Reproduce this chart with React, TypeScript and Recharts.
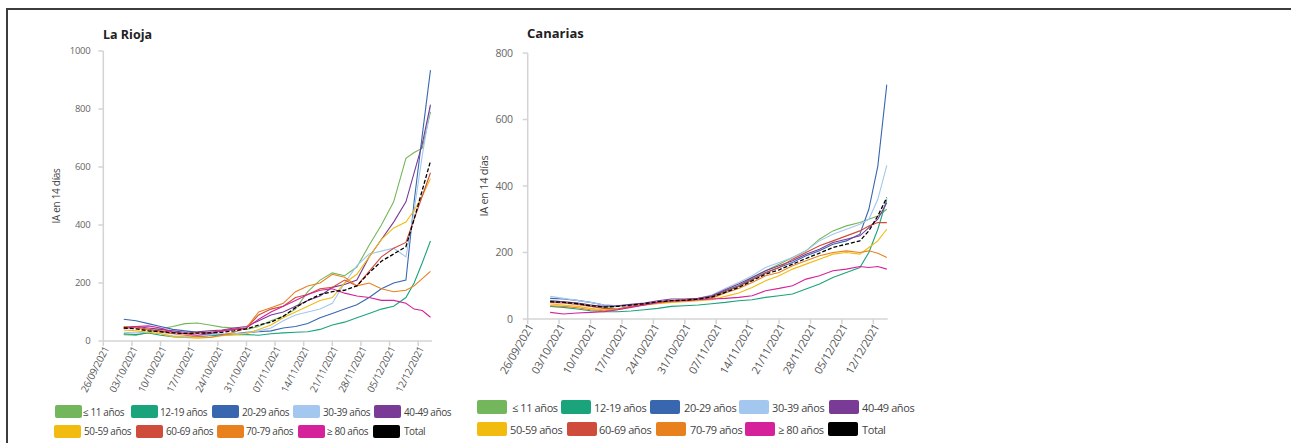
import React from "react";
import { LineChart, Line, XAxis, YAxis } from "recharts";

// ---------- data ----------
// day index counted from 26/09/2021
const days = [5, 8, 11, 14, 17, 20, 23, 26, 29, 32, 35, 38, 41, 44, 47, 50, 53, 56, 59, 62, 65, 68, 71, 74, 76, 78, 80];
const weekTicks = [0, 7, 14, 21, 28, 35, 42, 49, 56, 63, 70, 77];
const weekLabels = ["26/09/2021", "03/10/2021", "10/10/2021", "17/10/2021", "24/10/2021", "31/10/2021", "07/11/2021", "14/11/2021", "21/11/2021", "28/11/2021", "05/12/2021", "12/12/2021"];

const seriesKeys = ["m11", "a1219", "a2029", "a3039", "a4049", "a5059", "a6069", "a7079", "m80", "total"];
const seriesLabels = ["≤ 11 años", "12-19 años", "20-29 años", "30-39 años", "40-49 años", "50-59 años", "60-69 años", "70-79 años", "≥ 80 años", "Total"];
const seriesColors = ["#74b65b", "#1aa47c", "#3867b0", "#a3c7ef", "#7a3b96", "#f2bb10", "#cf4b3b", "#e8801d", "#d5229a", "#000000"];

const lrTicksY = [0, 200, 400, 600, 800, 1000];
const lrM11 = [22, 20, 30, 42, 50, 60, 62, 55, 48, 45, 40, 50, 70, 85, 110, 170, 210, 235, 225, 255, 330, 400, 480, 630, 650, 665, 790];
const lrA1219 = [25, 22, 28, 20, 15, 12, 15, 18, 20, 22, 22, 20, 25, 28, 30, 32, 40, 55, 65, 80, 95, 110, 120, 150, 200, 270, 345];
const lrA2029 = [75, 70, 60, 50, 40, 35, 30, 25, 22, 25, 30, 32, 35, 45, 50, 60, 80, 95, 110, 125, 150, 180, 200, 210, 480, 710, 934];
const lrA3039 = [30, 28, 30, 25, 18, 15, 20, 22, 25, 25, 28, 35, 45, 70, 90, 100, 110, 130, 200, 260, 300, 310, 320, 290, 450, 640, 810];
const lrA4049 = [48, 50, 45, 40, 35, 30, 32, 35, 38, 45, 50, 70, 90, 100, 120, 140, 155, 185, 195, 210, 290, 350, 410, 480, 580, 680, 815];
const lrA5059 = [38, 35, 30, 25, 15, 12, 10, 12, 18, 22, 25, 40, 55, 80, 100, 120, 140, 150, 200, 230, 290, 350, 390, 410, 450, 500, 560];
const lrA6069 = [45, 48, 40, 35, 30, 25, 28, 30, 35, 40, 45, 90, 110, 120, 150, 160, 180, 185, 210, 190, 240, 290, 320, 340, 420, 500, 580];
const lrA7079 = [50, 45, 38, 30, 25, 20, 15, 12, 20, 30, 45, 100, 115, 130, 170, 190, 200, 230, 220, 190, 200, 180, 170, 175, 190, 215, 240];
const lrM80 = [42, 50, 52, 45, 30, 25, 20, 25, 35, 40, 45, 75, 100, 120, 140, 160, 175, 180, 165, 155, 150, 140, 140, 130, 110, 105, 82];
const lrTotal = [45, 42, 35, 32, 28, 26, 27, 28, 30, 35, 42, 55, 65, 85, 115, 140, 160, 170, 175, 190, 235, 275, 300, 325, 420, 520, 620];

const cnTicksY = [0, 200, 400, 600, 800];
const cnM11 = [55, 52, 48, 42, 35, 38, 42, 46, 50, 55, 56, 60, 68, 85, 100, 125, 145, 165, 185, 205, 240, 265, 280, 290, 300, 310, 330];
const cnA1219 = [38, 35, 30, 25, 22, 22, 24, 28, 32, 38, 40, 42, 46, 50, 55, 58, 65, 70, 75, 90, 105, 125, 140, 155, 200, 270, 360];
const cnA2029 = [62, 60, 56, 50, 42, 40, 42, 45, 50, 55, 58, 62, 68, 85, 100, 120, 140, 155, 170, 190, 205, 225, 235, 255, 330, 460, 705];
const cnA3039 = [68, 62, 56, 50, 42, 40, 42, 45, 50, 55, 58, 62, 72, 92, 110, 130, 155, 170, 185, 205, 235, 255, 270, 285, 300, 360, 462];
const cnA4049 = [55, 52, 48, 42, 38, 40, 44, 48, 55, 60, 60, 62, 70, 88, 105, 125, 145, 160, 175, 195, 210, 230, 240, 250, 275, 300, 350];
const cnA5059 = [45, 42, 38, 32, 28, 30, 38, 42, 46, 50, 52, 55, 58, 68, 78, 95, 115, 130, 150, 165, 180, 195, 200, 195, 215, 235, 270];
const cnA6069 = [50, 48, 44, 38, 32, 30, 38, 44, 50, 55, 58, 60, 66, 82, 98, 118, 138, 155, 180, 200, 220, 235, 250, 265, 280, 290, 290];
const cnA7079 = [40, 38, 34, 28, 25, 28, 36, 42, 48, 52, 55, 58, 62, 78, 92, 110, 130, 140, 160, 175, 190, 200, 205, 200, 205, 198, 185];
const cnM80 = [20, 15, 18, 20, 22, 28, 35, 42, 50, 55, 55, 58, 60, 62, 65, 70, 85, 92, 100, 120, 130, 145, 150, 158, 155, 158, 150];
const cnTotal = [52, 50, 46, 40, 36, 38, 42, 46, 52, 55, 56, 60, 66, 80, 95, 115, 135, 148, 165, 182, 198, 215, 225, 235, 265, 310, 365];

const lrSeries = [lrM11, lrA1219, lrA2029, lrA3039, lrA4049, lrA5059, lrA6069, lrA7079, lrM80, lrTotal];
const cnSeries = [cnM11, cnA1219, cnA2029, cnA3039, cnA4049, cnA5059, cnA6069, cnA7079, cnM80, cnTotal];

function buildRows(series: number[][]) {
  return days.map((d, i) => {
    const row: Record<string, number> = { day: d };
    seriesKeys.forEach((k, j) => {
      row[k] = series[j][i];
    });
    return row;
  });
}

const FONT = "'Open Sans', Lato, sans-serif";
const AXIS = "#d4d4d4";

function makeXTick(fontSize: number, angle: number) {
  return (props: any) => {
    const { x, y, payload } = props;
    const idx = weekTicks.indexOf(payload.value);
    return (
      <g transform={`translate(${x + 3},${y})`}>
        <text x={0} y={0} dy="0.35em" textAnchor="end" transform={`rotate(${angle})`} fontSize={fontSize} fill="#555" fontFamily={FONT} letterSpacing={-0.3}>
          {weekLabels[idx]}
        </text>
      </g>
    );
  };
}

type PanelProps = {
  rows: Record<string, number>[];
  left: number;
  top: number;
  width: number;
  height: number;
  yWidth: number;
  margin: { top: number; right: number; bottom: number; left: number };
  xMax: number;
  yMax: number;
  yTicks: number[];
  fontSize: number;
  angle: number;
  tickMargin: number;
};

function Panel(p: PanelProps) {
  return (
    <div style={{ position: "absolute", left: p.left, top: p.top }}>
      <LineChart width={p.width} height={p.height} data={p.rows} margin={p.margin}>
        <XAxis
          dataKey="day"
          type="number"
          domain={[0, p.xMax]}
          ticks={weekTicks}
          interval={0}
          allowDataOverflow
          stroke={AXIS}
          strokeWidth={1.5}
          tickSize={5}
          tickMargin={1}
          height={60}
          tick={makeXTick(p.fontSize, p.angle)}
        />
        <YAxis
          type="number"
          domain={[0, p.yMax]}
          ticks={p.yTicks}
          interval={0}
          width={p.yWidth}
          stroke={AXIS}
          strokeWidth={1.5}
          tickSize={5}
          tickMargin={p.tickMargin}
          tick={{ fontSize: p.fontSize - 0.5, fill: "#666", fontFamily: FONT, letterSpacing: -0.3 }}
        />
        {seriesKeys.map((k, j) => (
          <Line
            key={k}
            type="linear"
            dataKey={k}
            stroke={seriesColors[j]}
            strokeWidth={k === "total" ? 1.3 : 1.1}
            strokeDasharray={k === "total" ? "4 2" : undefined}
            dot={false}
            activeDot={false}
            isAnimationActive={false}
          />
        ))}
      </LineChart>
    </div>
  );
}

type LegendPos = { sx: number; tx: number; row: number };

function LegendBlock(props: { items: LegendPos[]; rowY: number[]; sw: number; sh: number; fontSize: number }) {
  return (
    <>
      {props.items.map((it, j) => (
        <React.Fragment key={j}>
          <div
            style={{
              position: "absolute",
              left: it.sx - 8,
              top: props.rowY[it.row] - props.sh / 2 - 8,
              width: props.sw,
              height: props.sh,
              background: seriesColors[j],
              borderRadius: 2,
            }}
          />
          <div
            style={{
              position: "absolute",
              left: it.tx - 8,
              top: props.rowY[it.row] - 8,
              transform: "translateY(-50%)",
              fontSize: props.fontSize,
              fontFamily: FONT,
              color: "#444",
              whiteSpace: "nowrap",
              lineHeight: 1,
              letterSpacing: -0.4,
            }}
          >
            {seriesLabels[j]}
          </div>
        </React.Fragment>
      ))}
    </>
  );
}

const lrLegend: LegendPos[] = [
  { sx: 55, tx: 83, row: 0 },
  { sx: 131, tx: 160, row: 0 },
  { sx: 212, tx: 242, row: 0 },
  { sx: 293, tx: 323, row: 0 },
  { sx: 374, tx: 404, row: 0 },
  { sx: 54, tx: 84, row: 1 },
  { sx: 136, tx: 166, row: 1 },
  { sx: 217, tx: 246, row: 1 },
  { sx: 298, tx: 327, row: 1 },
  { sx: 373, tx: 404, row: 1 },
];
const cnLegend: LegendPos[] = [
  { sx: 477, tx: 512, row: 0 },
  { sx: 561, tx: 594, row: 0 },
  { sx: 650, tx: 684, row: 0 },
  { sx: 739, tx: 772, row: 0 },
  { sx: 829, tx: 862, row: 0 },
  { sx: 477, tx: 510, row: 1 },
  { sx: 567, tx: 599, row: 1 },
  { sx: 656, tx: 690, row: 1 },
  { sx: 745, tx: 778, row: 1 },
  { sx: 828, tx: 862, row: 1 },
];

export default function App() {
  const lrRows = buildRows(lrSeries);
  const cnRows = buildRows(cnSeries);
  return (
    <div style={{ position: "relative", width: 1283, height: 435, fontFamily: FONT }}>
      <div style={{ position: "fixed", left: 6, top: 8, width: 1285, height: 2, background: "#3c3c3c" }} />
      <div style={{ position: "fixed", left: 6, top: 8, width: 2, height: 435, background: "#3c3c3c" }} />
      {/* La Rioja */}
      <div style={{ position: "absolute", left: 103 - 8, top: 26 - 8, fontWeight: 700, fontSize: 12.5, color: "#222" }}>La Rioja</div>
      <div
        style={{
          position: "absolute",
          left: 56 - 8,
          top: 196 - 8,
          transform: "translate(-50%,-50%) rotate(-90deg)",
          fontSize: 10,
          color: "#444",
          whiteSpace: "nowrap",
          letterSpacing: -0.3,
        }}
      >
        IA en 14 días
      </div>
      <Panel
        rows={lrRows}
        left={40 - 8}
        top={20 - 8}
        width={410}
        height={390}
        yWidth={63.3}
        margin={{ top: 31, right: 17.9, bottom: 9, left: 0 }}
        xMax={80.4}
        yMax={1000}
        yTicks={lrTicksY}
        fontSize={10}
        angle={-63}
        tickMargin={8}
      />
      <LegendBlock items={lrLegend} rowY={[411.5, 431]} sw={27} sh={13} fontSize={10} />

      {/* Canarias */}
      <div style={{ position: "absolute", left: 527 - 8, top: 24 - 8, fontWeight: 700, fontSize: 13, color: "#222" }}>Canarias</div>
      <div
        style={{
          position: "absolute",
          left: 483 - 8,
          top: 186 - 8,
          transform: "translate(-50%,-50%) rotate(-90deg)",
          fontSize: 11,
          color: "#444",
          whiteSpace: "nowrap",
          letterSpacing: -0.3,
        }}
      >
        IA en 14 días
      </div>
      <Panel
        rows={cnRows}
        left={470 - 8}
        top={20 - 8}
        width={440}
        height={390}
        yWidth={57.7}
        margin={{ top: 33, right: 22.3, bottom: 31, left: 0 }}
        xMax={80.2}
        yMax={800}
        yTicks={cnTicksY}
        fontSize={11}
        angle={-60}
        tickMargin={10}
      />
      <LegendBlock items={cnLegend} rowY={[406.5, 428.5]} sw={30} sh={14} fontSize={11} />
    </div>
  );
}
